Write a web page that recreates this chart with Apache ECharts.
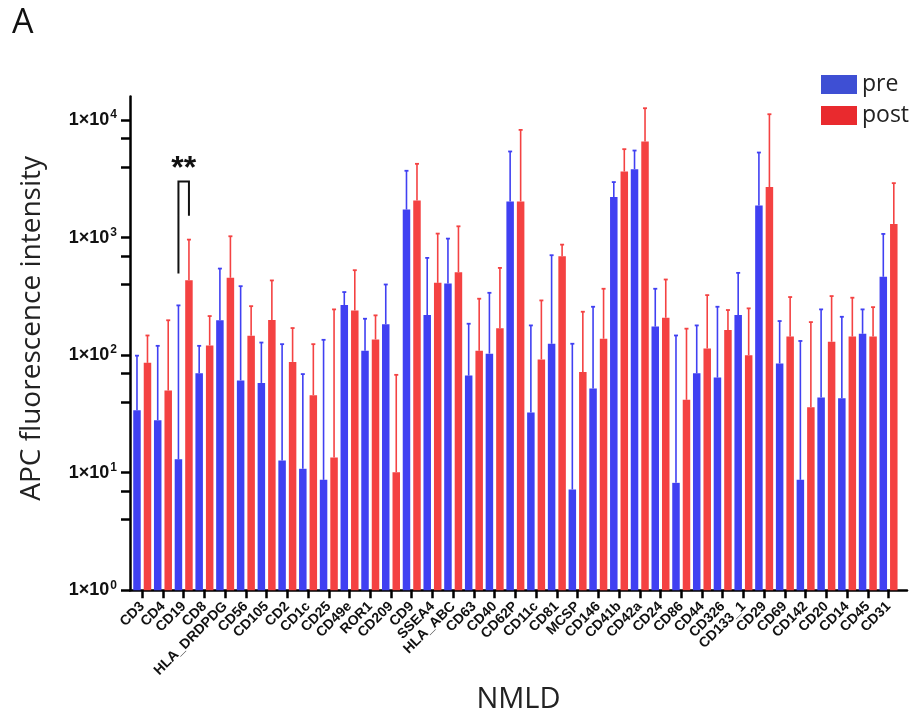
<!DOCTYPE html>
<html>
<head>
<meta charset="utf-8">
<script src="https://cdn.jsdelivr.net/npm/echarts@6/dist/echarts.min.js"></script>
<style>
  html, body { margin: 0; padding: 0; background: #fff; }
  #chart { width: 918px; height: 719px; }
</style>
</head>
<body>
<div id="chart"></div>
<script>
const markers = ['CD3', 'CD4', 'CD19', 'CD8', 'HLA_DRDPDG', 'CD56', 'CD105', 'CD2', 'CD1c', 'CD25',
  'CD49e', 'ROR1', 'CD209', 'CD9', 'SSEA4', 'HLA_ABC', 'CD63', 'CD40', 'CD62P', 'CD11c',
  'CD81', 'MCSP', 'CD146', 'CD41b', 'CD42a', 'CD24', 'CD86', 'CD44', 'CD326', 'CD133_1',
  'CD29', 'CD69', 'CD142', 'CD20', 'CD14', 'CD45', 'CD31']

const preMean = [34, 28, 13, 70, 198, 61, 58, 12.7, 10.8, 8.7,
  267, 109, 183, 1730, 219, 407, 67, 103, 2030, 32.6,
  125, 7.2, 52, 2210, 3820, 175, 8.2, 70, 64.5, 219,
  1870, 85, 8.7, 43.6, 43, 152, 464]
const postMean = [86, 50, 434, 121, 455, 146, 199, 87.6, 45.7, 13.5,
  240, 136, 10.1, 2070, 412, 508, 109, 169, 2030, 92,
  694, 72, 138, 3650, 6560, 208, 41.7, 114, 164, 100,
  2690, 144, 36, 130, 144, 144, 1306]
// top of each error bar (mean + SD)
const preUpper = [99, 120, 265, 120, 545, 386, 128, 124, 69, 135,
  344, 204, 399, 3700, 672, 980, 185, 339, 5400, 179,
  708, 125, 258, 2965, 5500, 367, 147, 179, 258, 501,
  5290, 195, 132, 245, 212, 245, 1074]
const postUpper = [147, 198, 961, 215, 1026, 261, 432, 170, 124, 245,
  528, 218, 68, 4240, 1081, 1247, 302, 552, 8240, 292,
  871, 234, 367, 5650, 12600, 440, 168, 324, 242, 250,
  11200, 312, 191, 318, 308, 256, 2904]

// significance bracket: category, left foot, right foot, top
const sigBracket = [[2, 495, 1537, 3003]]
const sigLabel = '**'

const yLabels = [1, 10, 100, 1000, 10000]
const yTicks = [1, 4, 7, 10, 40, 70, 100, 400, 700, 1000, 4000, 7000, 10000]

const BLUE = '#4040f2'
const RED = '#f44242'
const BAR_W = 7.5
const BAR_OFF = 5.25

const chart = echarts.init(document.getElementById('chart'))

function errorBars (offset, color) {
  return function (params, api) {
    const base = api.coord([api.value(0), api.value(1)])
    const top = api.coord([api.value(0), api.value(2)])
    const x = base[0] + offset
    return {
      type: 'group',
      children: [
        { type: 'line', shape: { x1: x, y1: base[1], x2: x, y2: top[1] }, style: { stroke: color, lineWidth: 1.6 } },
        { type: 'line', shape: { x1: x - 2, y1: top[1], x2: x + 2, y2: top[1] }, style: { stroke: color, lineWidth: 1.8 } }
      ]
    }
  }
}

function isPow10 (v) {
  const e = Math.log10(v)
  return Math.abs(e - Math.round(e)) < 1e-6
}

const idx = markers.map((m, i) => i)

chart.setOption({
  animation: false,
  title: {
    text: 'A',
    left: 7,
    top: 1,
    textStyle: { fontFamily: 'Open Sans', fontSize: 34, fontWeight: 'normal', color: '#111' }
  },
  legend: {
    orient: 'vertical',
    left: 816,
    top: 68,
    itemWidth: 36,
    itemHeight: 19,
    itemGap: 8,
    icon: 'rect',
    textStyle: { fontFamily: 'Open Sans', fontSize: 23, color: '#222' },
    data: [
      { name: 'pre', itemStyle: { color: '#3e4fd4' } },
      { name: 'post', itemStyle: { color: '#e92a2e' } }
    ]
  },
  grid: { left: 130, right: 11, top: 96.5, bottom: 127.3, containLabel: false },
  xAxis: {
    type: 'value',
    min: -0.59,
    max: 36.89,
    name: 'NMLD',
    nameLocation: 'middle',
    nameGap: 82,
    nameTextStyle: { fontFamily: 'Open Sans', fontSize: 29, color: '#222' },
    splitLine: { show: false },
    axisLine: { show: true, onZero: false, lineStyle: { color: '#000', width: 2.5 } },
    axisTick: { show: true, customValues: idx, length: 8, lineStyle: { color: '#000', width: 2.5 } },
    axisLabel: {
      customValues: idx,
      formatter: function (v) { return markers[Math.round(v)] },
      rotate: 45,
      margin: 14,
      fontFamily: 'Liberation Sans',
      fontWeight: 'bold',
      fontSize: 14,
      color: '#111'
    }
  },
  yAxis: {
    type: 'log',
    logBase: 10,
    min: 1,
    max: Math.pow(10, 4.2),
    name: 'APC fluorescence intensity',
    nameLocation: 'middle',
    nameGap: 84,
    nameTextStyle: { fontFamily: 'Open Sans', fontSize: 28, color: '#222', padding: [0, 0, 0, 30] },
    axisLine: { show: true, onZero: false, lineStyle: { color: '#000', width: 2.5 } },
    axisTick: { show: true, customValues: yTicks, length: 9, lineStyle: { color: '#000', width: 2.5 } },
    splitLine: { show: false },
    axisLabel: {
      margin: 13,
      formatter: function (v) {
        if (!isPow10(v) || yLabels.indexOf(Math.round(v)) < 0) return ''
        return '{b|1×10}{s|' + Math.round(Math.log10(v)) + '}'
      },
      rich: {
        b: { fontFamily: 'Liberation Sans', fontWeight: 'bold', fontSize: 18, color: '#111', lineHeight: 22 },
        s: { fontFamily: 'Liberation Sans', fontWeight: 'bold', fontSize: 12, color: '#111', verticalAlign: 'top', lineHeight: 22, padding: [0, 0, 0, 1] }
      }
    }
  },
  series: [
    { name: 'pre', type: 'bar', data: preMean.map((v, i) => [i, v]), barWidth: BAR_W, barGap: '40%', itemStyle: { color: BLUE } },
    { name: 'post', type: 'bar', data: postMean.map((v, i) => [i, v]), barWidth: BAR_W, barGap: '40%', itemStyle: { color: RED } },
    {
      name: 'pre err',
      type: 'custom',
      renderItem: errorBars(-BAR_OFF, BLUE),
      encode: { x: 0, y: [1, 2] },
      data: preMean.map((m, i) => [i, m, preUpper[i]]),
      z: 3
    },
    {
      name: 'post err',
      type: 'custom',
      renderItem: errorBars(BAR_OFF, RED),
      encode: { x: 0, y: [1, 2] },
      data: postMean.map((m, i) => [i, m, postUpper[i]]),
      z: 3
    },
    {
      name: 'sig',
      type: 'custom',
      encode: { x: 0, y: [1, 2, 3] },
      data: sigBracket,
      z: 4,
      renderItem: function (params, api) {
        const l = api.coord([api.value(0), api.value(1)])
        const r = api.coord([api.value(0), api.value(2)])
        const t = api.coord([api.value(0), api.value(3)])
        const lx = l[0] - BAR_OFF
        const rx = r[0] + BAR_OFF
        return {
          type: 'group',
          children: [
            {
              type: 'polyline',
              shape: { points: [[lx, l[1]], [lx, t[1]], [rx, t[1]], [rx, r[1]]] },
              style: { stroke: '#111', lineWidth: 2, fill: null }
            },
            {
              type: 'text',
              style: {
                x: (lx + rx) / 2,
                y: t[1] + 4,
                text: sigLabel,
                align: 'center',
                verticalAlign: 'bottom',
                fontFamily: 'Liberation Sans',
                fontWeight: 'bold',
                fontSize: 32,
                fill: '#111'
              }
            }
          ]
        }
      }
    }
  ]
})
</script>
</body>
</html>
